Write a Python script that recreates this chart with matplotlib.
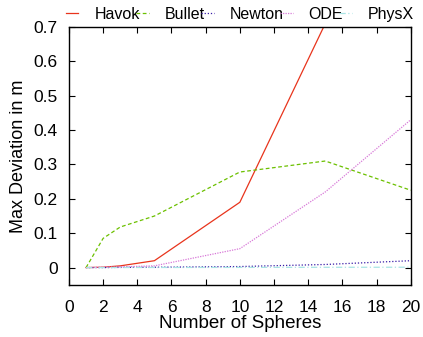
import matplotlib.pyplot as plt
import numpy as np

plt.rcParams['font.family'] = ['Liberation Sans', 'DejaVu Sans']

spheres = [1, 2, 3, 5, 10, 15, 20]
havok = [0.0, 0.001, 0.005, 0.02, 0.19, 0.71, 1.5]
bullet = [0.0, 0.085, 0.118, 0.15, 0.278, 0.31, 0.225]
newton = [0.0, 0.0, 0.0005, 0.001, 0.003, 0.009, 0.02]
ode = [0.0, 0.001, 0.002, 0.005, 0.055, 0.22, 0.43]
physx = [0.0, 0.0, 0.0002, 0.0003, 0.0005, 0.0008, 0.001]

fig = plt.figure(figsize=(4.23, 3.37), dpi=100)
ax = fig.add_axes([0.163, 0.155, 0.808, 0.765])

ax.plot(spheres, havok, color='#e8341c', lw=0.9, ls='-', label='Havok')
ax.plot(spheres, bullet, color='#6cc000', lw=0.9, ls=(0, (3, 2)), label='Bullet')
ax.plot(spheres, newton, color='#3a1ea8', lw=0.9, ls=(0, (1, 1.5)), label='Newton')
ax.plot(spheres, ode, color='#d878d8', lw=0.9, ls=(0, (1, 1)), label='ODE')
ax.plot(spheres, physx, color='#a8e4e4', lw=0.9, ls=(0, (5, 2, 1, 2)), label='PhysX')

ax.set_xlim(0, 20)
ax.set_ylim(-0.05, 0.7)
ax.set_xticks(np.arange(0, 21, 2))
ax.set_yticks(np.arange(0, 0.71, 0.1))
ax.set_yticklabels(['0', '0.1', '0.2', '0.3', '0.4', '0.5', '0.6', '0.7'])
ax.tick_params(direction='in', top=True, right=True, length=4, width=0.8, labelsize=12.5)
ax.tick_params(axis='x', pad=11)
ax.tick_params(axis='y', pad=8)
for s in ax.spines.values():
    s.set_linewidth(1.0)

ax.set_xlabel('Number of Spheres', fontsize=13.5, labelpad=0)
ax.set_ylabel('Max Deviation in m', fontsize=13, labelpad=5)

ax.legend(loc='lower left', bbox_to_anchor=(-0.01, 1.02, 1.02, 0.08), mode='expand',
          ncol=5, frameon=False, fontsize=11.5, handlelength=0.8, handletextpad=1.0,
          columnspacing=0.1, borderaxespad=0, borderpad=0)

fig.savefig('out.png', dpi=100)
